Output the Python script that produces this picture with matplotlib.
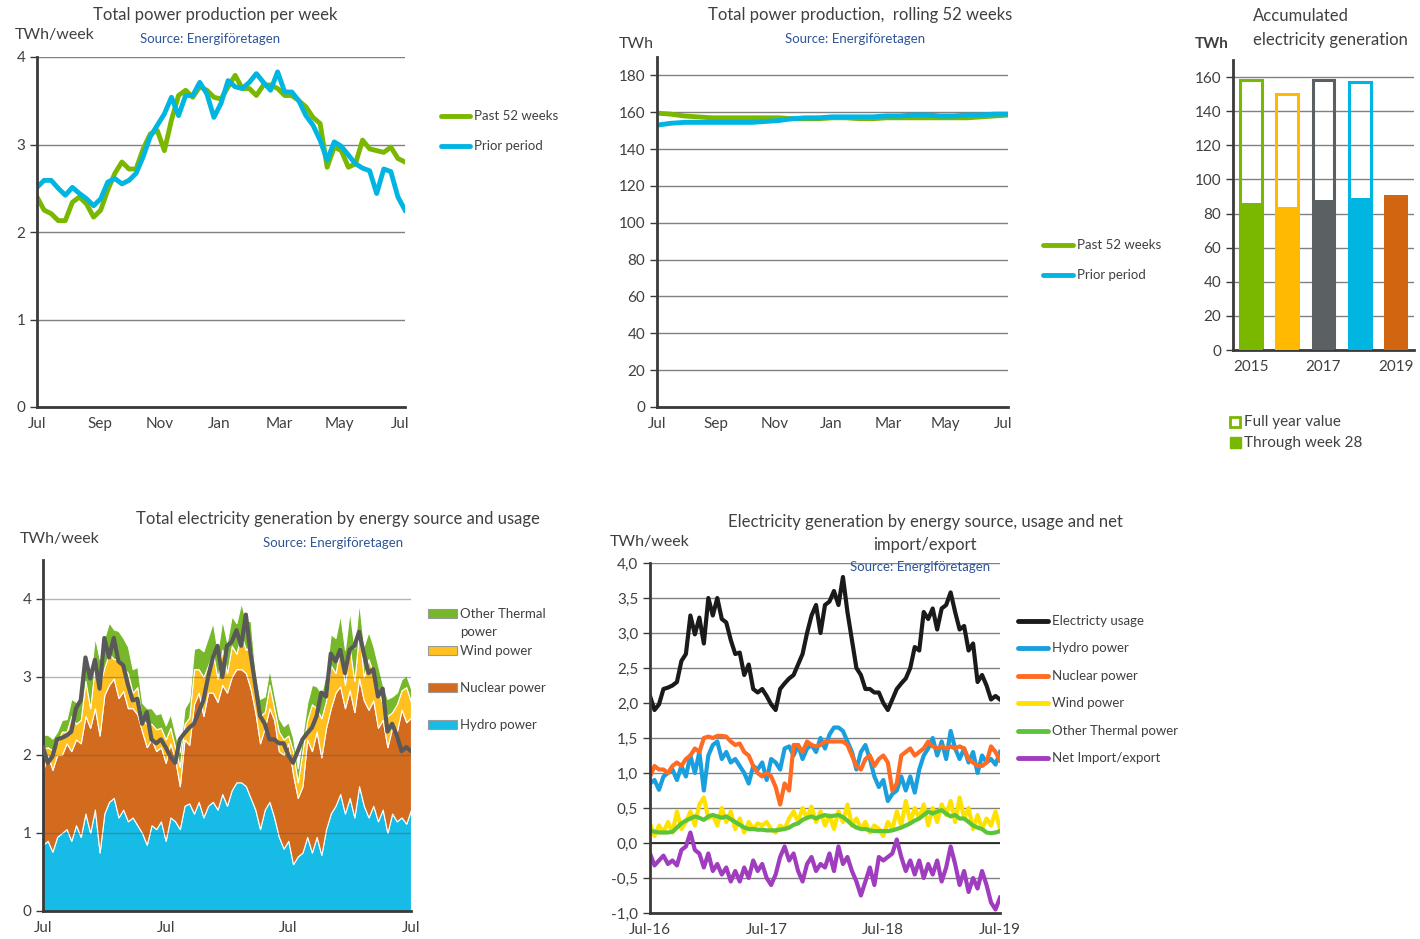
import numpy as np
import matplotlib
matplotlib.use('Agg')
from matplotlib import pyplot as plt
from matplotlib.lines import Line2D
from matplotlib.patches import Rectangle

plt.rcParams['font.family'] = ['Lato', 'DejaVu Sans']

# ---- data -------------------------------------------------------------
# weekly production, last 52 weeks vs prior period (TWh/week)
past_52 = [2.40, 2.25, 2.21, 2.13, 2.13, 2.34, 2.40, 2.32, 2.17, 2.25, 2.48, 2.67, 2.80, 2.72,
           2.72, 2.95, 3.12, 3.16, 2.93, 3.28, 3.56, 3.62, 3.54, 3.66, 3.62, 3.54, 3.52, 3.66,
           3.79, 3.64, 3.64, 3.56, 3.68, 3.68, 3.64, 3.56, 3.56, 3.50, 3.43, 3.31, 3.24, 2.74,
           2.97, 2.93, 2.74, 2.78, 3.05, 2.95, 2.93, 2.91, 2.97, 2.84, 2.80]
prior_52 = [2.51, 2.59, 2.59, 2.50, 2.42, 2.51, 2.44, 2.38, 2.30, 2.38, 2.57, 2.61, 2.55, 2.59,
            2.67, 2.86, 3.09, 3.22, 3.35, 3.54, 3.33, 3.56, 3.56, 3.71, 3.58, 3.31, 3.47, 3.73,
            3.66, 3.64, 3.71, 3.81, 3.71, 3.62, 3.83, 3.60, 3.60, 3.50, 3.33, 3.22, 3.05, 2.82,
            3.03, 2.98, 2.88, 2.78, 2.73, 2.70, 2.44, 2.72, 2.69, 2.40, 2.25]

# rolling 52 weeks (TWh), every second week
roll_past = [159.5, 159, 158, 157.5, 157, 157, 157, 157, 157, 157, 156.5, 156.5, 156.5, 157,
             157, 156.5, 156.5, 157, 157, 157, 157, 157, 157, 157, 157.5, 158, 158.5]
roll_prior = [153, 154, 154.5, 154.5, 154.5, 154.5, 154.5, 154.5, 155, 155.5, 156.5, 157, 157,
              157.5, 157.5, 157.5, 157.5, 158, 158, 158.5, 158.5, 158, 158, 158.5, 158.5, 159, 159]

# accumulated generation
years = ['2015', '2016', '2017', '2018', '2019']
full_year = [158, 150, 158, 157]
through_w28 = [86, 84, 88, 89, 91]

# Jul-16 .. Jul-19, every second week (TWh/week)
usage = [2.10, 1.90, 1.98, 2.20, 2.22, 2.25, 2.30, 2.60, 2.70, 3.25, 2.98, 3.22, 2.85, 3.50,
         3.25, 3.50, 3.20, 3.15, 2.90, 2.70, 2.72, 2.40, 2.55, 2.20, 2.15, 2.20, 2.10, 1.98,
         1.90, 2.20, 2.28, 2.35, 2.40, 2.55, 2.70, 3.00, 3.25, 3.40, 3.00, 3.40, 3.45, 3.60,
         3.40, 3.80, 3.30, 2.90, 2.50, 2.40, 2.20, 2.20, 2.15, 2.15, 2.00, 1.90, 2.05, 2.20,
         2.28, 2.35, 2.50, 2.80, 2.75, 3.30, 3.20, 3.35, 3.05, 3.35, 3.40, 3.58, 3.30, 3.05,
         3.10, 2.75, 2.85, 2.30, 2.40, 2.25, 2.05, 2.10, 2.05]
hydro = [0.85, 0.90, 0.76, 0.95, 1.00, 1.05, 0.90, 1.10, 0.95, 1.25, 1.00, 1.30, 0.75, 1.25,
         1.40, 1.45, 1.20, 1.30, 1.15, 1.20, 1.10, 1.00, 0.85, 1.10, 1.05, 1.15, 0.90, 1.20,
         1.15, 1.05, 1.35, 1.38, 1.25, 1.40, 1.20, 1.35, 1.40, 1.30, 1.50, 1.35, 1.55, 1.65,
         1.65, 1.60, 1.45, 1.30, 1.05, 1.30, 1.40, 1.20, 0.95, 0.80, 0.90, 0.60, 0.70, 0.75,
         0.95, 0.75, 0.95, 0.72, 1.05, 1.25, 1.35, 1.50, 1.25, 1.45, 1.20, 1.60, 1.35, 1.20,
         1.35, 1.15, 1.30, 1.00, 1.25, 1.15, 1.20, 1.12, 1.30]
nuclear = [0.95, 1.10, 1.05, 1.05, 1.00, 1.10, 1.15, 1.10, 1.20, 1.25, 1.35, 1.30, 1.50, 1.52,
           1.50, 1.53, 1.53, 1.52, 1.45, 1.40, 1.42, 1.30, 1.25, 1.10, 1.00, 0.95, 1.00, 0.95,
           0.80, 0.55, 0.85, 0.75, 1.40, 1.40, 1.30, 1.45, 1.40, 1.38, 1.40, 1.45, 1.45, 1.45,
           1.45, 1.45, 1.40, 1.25, 1.10, 1.05, 1.20, 1.25, 1.10, 1.20, 1.25, 1.15, 0.75, 0.85,
           1.25, 1.30, 1.35, 1.25, 1.30, 1.35, 1.45, 1.38, 1.35, 1.38, 1.35, 1.38, 1.35, 1.38,
           1.35, 1.20, 1.15, 1.10, 1.10, 1.15, 1.38, 1.30, 1.18]
wind = [0.28, 0.10, 0.25, 0.15, 0.30, 0.15, 0.45, 0.20, 0.30, 0.45, 0.25, 0.55, 0.65, 0.35,
        0.40, 0.25, 0.50, 0.30, 0.45, 0.20, 0.35, 0.15, 0.30, 0.20, 0.28, 0.25, 0.30, 0.20,
        0.15, 0.25, 0.20, 0.35, 0.45, 0.30, 0.50, 0.35, 0.52, 0.30, 0.45, 0.25, 0.40, 0.20,
        0.45, 0.30, 0.55, 0.25, 0.35, 0.20, 0.30, 0.15, 0.25, 0.20, 0.10, 0.30, 0.20, 0.45,
        0.25, 0.60, 0.30, 0.50, 0.35, 0.55, 0.25, 0.50, 0.30, 0.55, 0.40, 0.60, 0.30, 0.65,
        0.35, 0.50, 0.20, 0.40, 0.20, 0.35, 0.25, 0.45, 0.20]
thermal = [0.18, 0.16, 0.15, 0.15, 0.15, 0.16, 0.22, 0.28, 0.32, 0.35, 0.38, 0.36, 0.33, 0.38,
           0.40, 0.38, 0.36, 0.38, 0.34, 0.30, 0.26, 0.22, 0.20, 0.20, 0.19, 0.19, 0.18, 0.18,
           0.18, 0.19, 0.20, 0.22, 0.26, 0.28, 0.33, 0.36, 0.38, 0.35, 0.38, 0.40, 0.38, 0.39,
           0.40, 0.37, 0.32, 0.26, 0.22, 0.20, 0.20, 0.18, 0.17, 0.17, 0.17, 0.17, 0.18, 0.20,
           0.22, 0.25, 0.28, 0.32, 0.35, 0.40, 0.45, 0.42, 0.45, 0.47, 0.42, 0.38, 0.40, 0.35,
           0.35, 0.30, 0.25, 0.22, 0.20, 0.15, 0.14, 0.15, 0.17]
net_imp = [-0.15, -0.32, -0.25, -0.18, -0.30, -0.25, -0.32, -0.10, -0.05, 0.15, -0.10, -0.15,
           -0.35, -0.15, -0.40, -0.30, -0.45, -0.35, -0.55, -0.40, -0.55, -0.35, -0.50, -0.25,
           -0.40, -0.30, -0.50, -0.60, -0.45, -0.20, -0.05, -0.25, -0.15, -0.40, -0.55, -0.30,
           -0.20, -0.40, -0.30, -0.35, -0.15, -0.40, -0.05, -0.30, -0.20, -0.40, -0.55, -0.75,
           -0.55, -0.35, -0.60, -0.20, -0.25, -0.20, -0.15, 0.05, -0.20, -0.40, -0.25, -0.45,
           -0.25, -0.50, -0.30, -0.45, -0.25, -0.55, -0.35, -0.05, -0.30, -0.60, -0.40, -0.70,
           -0.50, -0.65, -0.40, -0.60, -0.85, -0.95, -0.78]

# ---- helpers ---------------------------------------------------------
W, H = 1420, 939
TXT = '#404040'
SRC = '#2F5597'
GREEN, BLUE = '#7AB800', '#00B5E2'

fig = plt.figure(figsize=(W / 100, H / 100), dpi=100)


def box(x0, y0, x1, y1):
    return [x0 / W, 1 - y1 / H, (x1 - x0) / W, (y1 - y0) / H]


def ftext(x, y, s, **kw):
    kw.setdefault('color', TXT)
    kw.setdefault('va', 'center')
    return fig.text(x / W, 1 - y / H, s, **kw)


def leg_line(x0, x1, y, color, label, size=9.5):
    fig.add_artist(Line2D([x0 / W, x1 / W], [1 - y / H] * 2, color=color, lw=3.5,
                          solid_capstyle='round'))
    ftext(x1 + 4, y, label, fontsize=size)


def style(ax, grid_color='#808080'):
    for s in ['top', 'right']:
        ax.spines[s].set_visible(False)
    for s in ['left', 'bottom']:
        ax.spines[s].set_linewidth(2)
        ax.spines[s].set_color('#3a3a3a')
    ax.tick_params(axis='x', length=0, pad=7, labelsize=11, labelcolor=TXT)
    ax.tick_params(axis='y', length=5, width=1, color='#3a3a3a', labelsize=11, labelcolor=TXT)
    ax.yaxis.grid(True, color=grid_color, lw=1)
    ax.set_axisbelow(True)


month_ticks = [0, 8.7, 17.3, 26, 34.7, 43.3, 52]
month_labels = ['Jul', 'Sep', 'Nov', 'Jan', 'Mar', 'May', 'Jul']

# ---- top-left: weekly production ------------------------------------
ax1 = fig.add_axes(box(37, 57, 405, 407))
wk = np.arange(len(past_52))
ax1.plot(wk, past_52, color=GREEN, lw=3.5)
ax1.plot(wk, prior_52, color=BLUE, lw=3.5)
ax1.set_xlim(0, 52)
ax1.set_ylim(0, 4)
ax1.set_yticks([0, 1, 2, 3, 4])
ax1.set_xticks([0, 8.9, 17.4, 25.8, 34.3, 42.8, 51.3])
ax1.set_xticklabels(month_labels)
style(ax1)
ax1.spines['left'].set_bounds(0, 4)
ftext(215, 15, 'Total power production per week', fontsize=12, ha='center')
ftext(15, 35, 'TWh/week', fontsize=11.5)
ftext(140, 39, 'Source: Energiföretagen', fontsize=9.5, color=SRC)
leg_line(441, 470, 116, GREEN, 'Past 52 weeks')
leg_line(441, 470, 146, BLUE, 'Prior period')

# ---- top-middle: rolling 52 weeks ------------------------------------
ax2 = fig.add_axes(box(657, 57, 1008, 407))
rw = np.arange(len(roll_past)) * 2
ax2.plot(rw, roll_past, color=GREEN, lw=3.5)
ax2.plot(rw, roll_prior, color=BLUE, lw=3.5)
ax2.set_xlim(0, 52)
ax2.set_ylim(0, 190)
ax2.set_yticks(range(0, 181, 20))
ax2.set_xticks([0, 8.7, 17.4, 25.8, 34.3, 42.8, 51.3])
ax2.set_xticklabels(month_labels)
style(ax2)
ftext(860, 15, 'Total power production,  rolling 52 weeks', fontsize=12, ha='center')
ftext(619, 44, 'TWh', fontsize=11.5)
ftext(785, 39, 'Source: Energiföretagen', fontsize=9.5, color=SRC)
leg_line(1043, 1073, 245, GREEN, 'Past 52 weeks')
leg_line(1043, 1073, 275, BLUE, 'Prior period')

# ---- top-right: accumulated generation -------------------------------
ax3 = fig.add_axes(box(1233, 60, 1414, 350))
bar_colors = ['#7AB800', '#FFB900', '#5B6063', '#00B5E2', '#D2650F']
xs = np.arange(len(years))
for i, v in enumerate(full_year):
    ax3.bar(i, v, width=0.6, fill=False, edgecolor=bar_colors[i], lw=2.2, zorder=2)
ax3.bar(xs, through_w28, width=0.66, color=bar_colors, zorder=3)
ax3.set_xlim(-0.5, 4.5)
ax3.set_ylim(0, 170)
ax3.set_yticks(range(0, 161, 20))
ax3.set_xticks([0, 2, 4])
ax3.set_xticklabels([years[0], years[2], years[4]])
style(ax3)
ftext(1253, 16, 'Accumulated', fontsize=12)
ftext(1253, 40, 'electricity generation', fontsize=12)
ftext(1195, 44, 'TWh', fontsize=11, fontweight='bold')
fig.add_artist(Rectangle(((1230) / W, 1 - 427 / H), 10 / W, 10 / H, fill=False,
                         edgecolor=GREEN, lw=2))
fig.add_artist(Rectangle(((1230) / W, 1 - 448 / H), 11 / W, 11 / H, color=GREEN))
ftext(1244, 422, 'Full year value', fontsize=11)
ftext(1244, 443, 'Through week 28', fontsize=11)

# ---- bottom-left: stacked by source ---------------------------------
weeks3 = np.arange(len(usage)) * 2
ax4 = fig.add_axes(box(43, 560, 411, 911))
stack_colors = ['#16BCE6', '#D36B1E', '#FFC020', '#77B82A']
ax4.stackplot(weeks3, hydro, nuclear, wind, thermal, colors=stack_colors,
              edgecolor='white', linewidth=0.8)
ax4.plot(weeks3, usage, color='#595959', lw=3, zorder=4)
ax4.set_xlim(0, 156)
ax4.set_ylim(0, 4.5)
ax4.set_yticks([0, 1, 2, 3, 4])
ax4.set_xticks([0, 52, 104, 156])
ax4.set_xticklabels(['Jul', 'Jul', 'Jul', 'Jul'])
style(ax4, grid_color='#595959')
ax4.set_axisbelow(False)
for gl in ax4.get_ygridlines():
    gl.set_alpha(0.45)
    gl.set_zorder(3)
ftext(338, 519, 'Total electricity generation by energy source and usage', fontsize=12,
      ha='center')
ftext(20, 539, 'TWh/week', fontsize=11.5)
ftext(263, 543, 'Source: Energiföretagen', fontsize=9.5, color=SRC)
leg4 = [('Other Thermal\npower', 614, stack_colors[3]), ('Wind power', 651, stack_colors[2]),
        ('Nuclear power', 688, stack_colors[1]), ('Hydro power', 725, stack_colors[0])]
for lab, y, c in leg4:
    fig.add_artist(Rectangle((428 / W, 1 - (y + 4) / H), 29 / W, 9 / H, facecolor=c,
                             edgecolor='#9a9a9a', lw=0.8))
    if '\n' in lab:
        a, b = lab.split('\n')
        ftext(460, y, a, fontsize=9.5)
        ftext(460, y + 18, b, fontsize=9.5)
    else:
        ftext(460, y, lab, fontsize=9.5)

# ---- bottom-right: lines by source ----------------------------------
ax5 = fig.add_axes(box(650, 563, 1000, 913))
ax5.plot(weeks3, wind, color='#FFE100', lw=3)
ax5.plot(weeks3, thermal, color='#5CC43A', lw=3)
ax5.plot(weeks3, hydro, color='#1A9FDE', lw=3)
ax5.plot(weeks3, nuclear, color='#FF6B22', lw=3)
ax5.plot(weeks3, net_imp, color='#A03CBE', lw=3)
ax5.plot(weeks3, usage, color='#1A1A1A', lw=3)
ax5.set_xlim(0, 156)
ax5.set_ylim(-1, 4)
ax5.set_yticks(np.arange(-1, 4.01, 0.5))
ax5.set_yticklabels([f'{v:.1f}'.replace('.', ',') for v in np.arange(-1, 4.01, 0.5)])
ax5.set_xticks([0, 52, 104, 156])
ax5.set_xticklabels(['Jul-16', 'Jul-17', 'Jul-18', 'Jul-19'])
style(ax5)
ax5.axhline(0, color='#262626', lw=1.3, zorder=1)
ftext(925, 522, 'Electricity generation by energy source, usage and net', fontsize=12,
      ha='center')
ftext(925, 545, 'import/export', fontsize=12, ha='center')
ftext(610, 542, 'TWh/week', fontsize=11.5)
ftext(850, 567, 'Source: Energiföretagen', fontsize=9.5, color=SRC)
leg5 = [('Electricty usage', '#1A1A1A'), ('Hydro power', '#1A9FDE'),
        ('Nuclear power', '#FF6B22'), ('Wind power', '#FFE100'),
        ('Other Thermal power', '#5CC43A'), ('Net Import/export', '#A03CBE')]
for k, (lab, c) in enumerate(leg5):
    leg_line(1018, 1048, 621 + k * 27.4, c, lab)

fig.savefig('out.png', dpi=100)
